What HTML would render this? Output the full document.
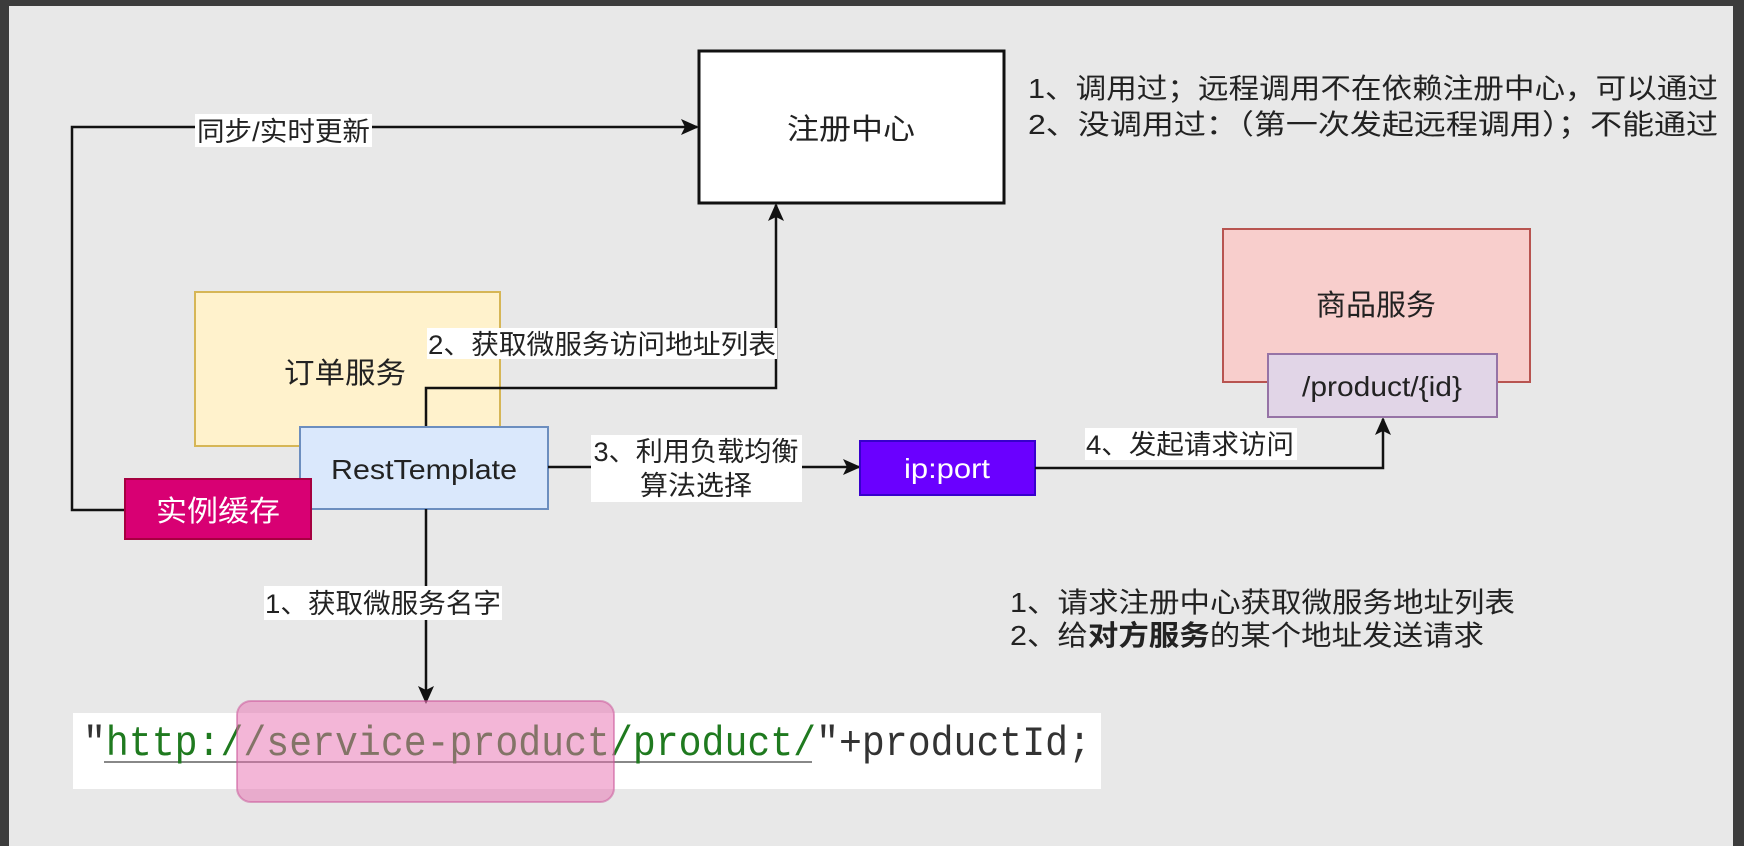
<!DOCTYPE html>
<html><head><meta charset="utf-8"><style>
html,body{margin:0;padding:0;}
body{width:1744px;height:846px;overflow:hidden;background:#3c3c3c;}
svg{display:block}
text{font-family:"Liberation Sans","Noto Sans CJK SC",sans-serif;fill:#222}
</style></head><body>
<svg width="1744" height="846" viewBox="0 0 1744 846" xmlns="http://www.w3.org/2000/svg">
<defs>
<marker id="ah" markerWidth="18" markerHeight="18" refX="16" refY="8" orient="auto" markerUnits="userSpaceOnUse"><path d="M0,0 L18,8 L0,16 L4,8 Z" fill="#111"/></marker>
</defs>
<rect x="9" y="6" width="1724" height="840" fill="#e8e8e8"/>

<!-- registry -->
<rect x="699" y="51" width="305" height="152" fill="#fff" stroke="#111" stroke-width="3"/>
<text x="851" y="139" font-size="29" text-anchor="middle" textLength="128" lengthAdjust="spacingAndGlyphs">注册中心</text>
<text x="1028" y="98" font-size="28" textLength="690" lengthAdjust="spacingAndGlyphs">1、调用过；远程调用不在依赖注册中心，可以通过</text>
<text x="1028" y="134" font-size="28" textLength="690" lengthAdjust="spacingAndGlyphs">2、没调用过：（第一次发起远程调用）；不能通过</text>

<!-- sync line -->
<polyline points="125,510 72,510 72,127 697,127" fill="none" stroke="#111" stroke-width="2.5" marker-end="url(#ah)"/>
<rect x="195" y="114" width="177" height="33" fill="#fff"/>
<text x="197" y="141" font-size="27" textLength="173" lengthAdjust="spacingAndGlyphs">同步/实时更新</text>

<!-- order service -->
<rect x="195" y="292" width="305" height="154" fill="#fff2cc" stroke="#d6b656" stroke-width="2"/>
<text x="345" y="383" font-size="29" text-anchor="middle" textLength="122" lengthAdjust="spacingAndGlyphs">订单服务</text>

<!-- arrow 2 -->
<polyline points="426,427 426,388 776,388 776,205" fill="none" stroke="#111" stroke-width="2.5" marker-end="url(#ah)"/>
<rect x="427" y="328" width="350" height="31" fill="#fff"/>
<text x="428" y="354" font-size="27" textLength="348" lengthAdjust="spacingAndGlyphs">2、获取微服务访问地址列表</text>

<!-- rest template -->
<rect x="300" y="427" width="248" height="82" fill="#dae8fc" stroke="#6c8ebf" stroke-width="2"/>
<text x="424" y="479" font-size="28" text-anchor="middle" textLength="186" lengthAdjust="spacingAndGlyphs">RestTemplate</text>

<!-- instance cache -->
<rect x="125" y="479" width="186" height="60" fill="#d80073" stroke="#a50040" stroke-width="2"/>
<text x="218" y="521" font-size="29" text-anchor="middle" textLength="124" lengthAdjust="spacingAndGlyphs" style="fill:#fff">实例缓存</text>

<!-- arrow 3 -->
<line x1="548" y1="467" x2="859" y2="467" stroke="#111" stroke-width="2.5" marker-end="url(#ah)"/>
<rect x="591" y="435" width="211" height="67" fill="#fff"/>
<text x="696" y="461" font-size="27" text-anchor="middle" textLength="205" lengthAdjust="spacingAndGlyphs">3、利用负载均衡</text>
<text x="696" y="495" font-size="27" text-anchor="middle" textLength="112" lengthAdjust="spacingAndGlyphs">算法选择</text>

<!-- ip:port -->
<rect x="860" y="441" width="175" height="54" fill="#6a00ff" stroke="#3700cc" stroke-width="2"/>
<text x="947" y="478" font-size="28" text-anchor="middle" textLength="86" lengthAdjust="spacingAndGlyphs" style="fill:#fff">ip:port</text>

<!-- arrow 4 -->
<polyline points="1035,468 1383,468 1383,419" fill="none" stroke="#111" stroke-width="2.5" marker-end="url(#ah)"/>
<rect x="1085" y="428" width="212" height="32" fill="#fff"/>
<text x="1086" y="454" font-size="27" textLength="208" lengthAdjust="spacingAndGlyphs">4、发起请求访问</text>

<!-- product service -->
<rect x="1223" y="229" width="307" height="153" fill="#f8cecc" stroke="#b85450" stroke-width="2"/>
<text x="1376" y="315" font-size="29" text-anchor="middle" textLength="120" lengthAdjust="spacingAndGlyphs">商品服务</text>
<rect x="1268" y="354" width="229" height="63" fill="#e1d5e7" stroke="#9673a6" stroke-width="2"/>
<text x="1382" y="396" font-size="28" text-anchor="middle" textLength="160" lengthAdjust="spacingAndGlyphs">/product/{id}</text>

<!-- bottom notes -->
<text x="1010" y="612" font-size="28" textLength="505" lengthAdjust="spacingAndGlyphs">1、请求注册中心获取微服务地址列表</text>
<text x="1010" y="645" font-size="28" textLength="474" lengthAdjust="spacingAndGlyphs">2、给<tspan font-weight="bold">对方服务</tspan>的某个地址发送请求</text>

<!-- arrow 1 -->
<line x1="426" y1="509" x2="426" y2="702" stroke="#111" stroke-width="2.5" marker-end="url(#ah)"/>
<rect x="264" y="586" width="238" height="34" fill="#fff"/>
<text x="265" y="613" font-size="27" textLength="236" lengthAdjust="spacingAndGlyphs">1、获取微服务名字</text>

<!-- code strip -->
<rect x="73" y="713" width="1028" height="76" fill="#fff"/>
<line x1="104" y1="762" x2="812" y2="762" stroke="#888" stroke-width="2"/>
<text x="83" y="755" font-size="42" textLength="1008" lengthAdjust="spacingAndGlyphs" style="font-family:'Liberation Mono',monospace;fill:#333">"<tspan style="fill:#1f7a1f">http://service-product/product/</tspan>"+productId;</text>
<rect x="237" y="701" width="377" height="101" rx="14" fill="rgba(232,110,175,0.5)" stroke="rgba(200,80,150,0.5)" stroke-width="2"/>
</svg>
</body></html>
